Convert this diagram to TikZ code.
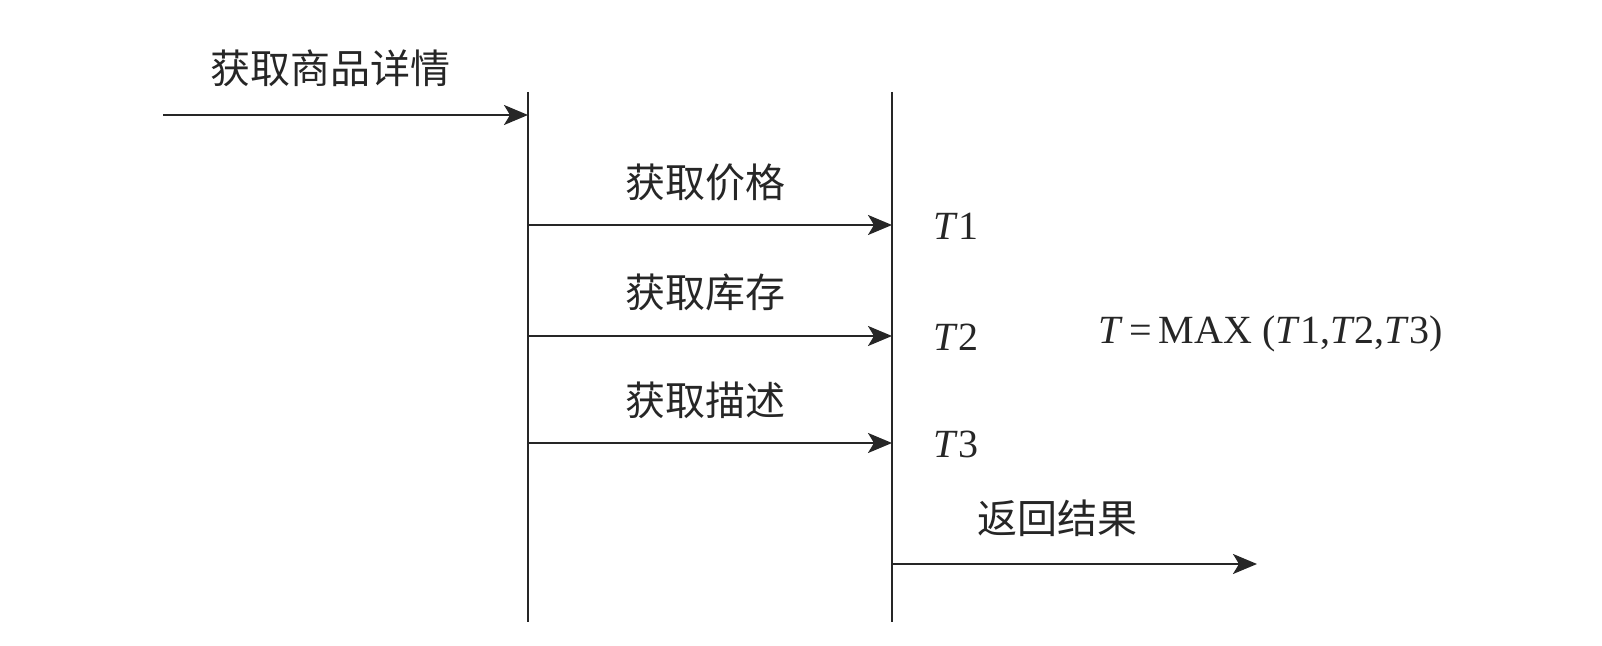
\documentclass[tikz,border=0pt]{standalone}
\usepackage{fontspec}
\setmainfont{Liberation Serif}
\newfontfamily\cjk{Noto Sans CJK SC}
\usetikzlibrary{arrows.meta}
\begin{document}
\begin{tikzpicture}[x=0.5pt,y=-0.5pt,
  line/.style={line width=1.1pt,draw=black!85},
  msg/.style={line, -{Stealth[length=12pt,width=10pt,inset=3pt]}},
  cn/.style={font=\cjk\fontsize{20pt}{24pt}\selectfont, inner sep=0pt, text=black!85},
  tl/.style={font=\fontsize{20pt}{24pt}\selectfont, inner sep=0pt, anchor=west, text=black!85}]
\useasboundingbox (0,0) rectangle (1602,646);
% lifelines
\coordinate (Atop) at (528,92);
\coordinate (Abot) at (528,622);
\coordinate (Btop) at (892,92);
\coordinate (Bbot) at (892,622);
\draw[line] (Atop) -- (Abot);
\draw[line] (Btop) -- (Bbot);
% arrow endpoints
\coordinate (s0) at (163,115);
\coordinate (e0) at (528,115);
\coordinate (s1) at (528,225);
\coordinate (e1) at (892,225);
\coordinate (s2) at (528,336);
\coordinate (e2) at (892,336);
\coordinate (s3) at (528,443);
\coordinate (e3) at (892,443);
\coordinate (s4) at (892,564);
\coordinate (e4) at (1257,564);
\draw[msg] (s0) -- (e0);
\draw[msg] (s1) -- (e1);
\draw[msg] (s2) -- (e2);
\draw[msg] (s3) -- (e3);
\draw[msg] (s4) -- (e4);
% labels
\node[cn] (l0) at (330,68) {获取商品详情};
\node[cn] (l1) at (705,182) {获取价格};
\node[cn] (l2) at (705,292) {获取库存};
\node[cn] (l3) at (705,400) {获取描述};
\node[cn] (l4) at (1057,518) {返回结果};
\node[tl] (t1) at (933,226) {\textit{T}1};
\node[tl] (t2) at (933,337) {\textit{T}2};
\node[tl] (t3) at (933,444) {\textit{T}3};
\node[tl] (f) at (1098,334) {\textit{T}\,=\,MAX (\textit{T}1,\textit{T}2,\textit{T}3)};
\end{tikzpicture}
\end{document}
